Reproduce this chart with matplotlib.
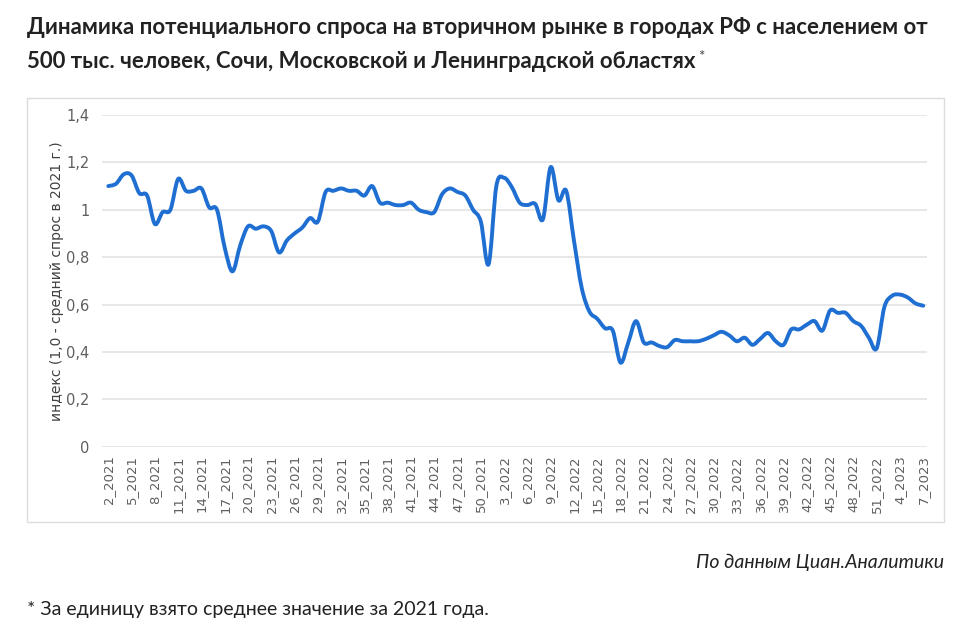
import numpy as np
import matplotlib.pyplot as plt
from matplotlib.patches import Rectangle, PathPatch
from matplotlib.path import Path

# weeks present in the data (New Year weeks are missing)
weeks_2021 = list(range(2, 52))
weeks_2022 = list(range(2, 52))
weeks_2023 = list(range(2, 8))
categories = ([f"{w}_2021" for w in weeks_2021] + [f"{w}_2022" for w in weeks_2022]
              + [f"{w}_2023" for w in weeks_2023])

demand = [
    1.10, 1.11, 1.15, 1.145, 1.07, 1.06, 0.94, 0.99, 1.00, 1.13,
    1.08, 1.08, 1.09, 1.01, 1.00, 0.84, 0.74, 0.85, 0.93, 0.92,
    0.93, 0.91, 0.82, 0.87, 0.90, 0.925, 0.965, 0.95, 1.075, 1.08,
    1.09, 1.08, 1.08, 1.06, 1.10, 1.03, 1.03, 1.02, 1.02, 1.03,
    1.00, 0.99, 0.99, 1.065, 1.09, 1.075, 1.06, 1.00, 0.95, 0.77,
    1.10, 1.135, 1.095, 1.03, 1.02, 1.025, 0.96, 1.18, 1.04, 1.08,
    0.87, 0.67, 0.57, 0.54, 0.50, 0.49, 0.355, 0.44, 0.53, 0.44,
    0.44, 0.425, 0.42, 0.45, 0.445, 0.445, 0.445, 0.455, 0.47, 0.485,
    0.47, 0.445, 0.46, 0.43, 0.455, 0.48, 0.445, 0.43, 0.495, 0.495,
    0.515, 0.53, 0.49, 0.575, 0.565, 0.565, 0.53, 0.51, 0.46, 0.415,
    0.59, 0.637, 0.642, 0.63, 0.605, 0.595,
]

yticks = [0, 0.2, 0.4, 0.6, 0.8, 1.0, 1.2, 1.4]
ytick_labels = ["0", "0,2", "0,4", "0,6", "0,8", "1", "1,2", "1,4"]

title_1 = "Динамика потенциального спроса на вторичном рынке в городах РФ с населением от"
title_2 = "500 тыс. человек, Сочи, Московской и Ленинградской областях"
source = "По данным Циан.Аналитики"
note = "* За единицу взято среднее значение за 2021 года."


def smooth_path(xs, ys):
    # smoothed line like in Excel: bezier segments through every point
    p = np.column_stack([xs, ys]).astype(float)
    ext = np.vstack([p[0], p, p[-1]])
    verts = [p[0]]
    codes = [Path.MOVETO]
    for i in range(len(p) - 1):
        c1 = ext[i + 1] + (ext[i + 2] - ext[i]) / 6
        c2 = ext[i + 2] - (ext[i + 3] - ext[i + 1]) / 6
        verts += [c1, c2, p[i + 1]]
        codes += [Path.CURVE4] * 3
    return Path(verts, codes)


W, H = 966, 643
fig = plt.figure(figsize=(W / 100, H / 100), dpi=100)

# panel frame
fig.patches.append(Rectangle((27 / W, 1 - 522 / H), (944 - 27) / W, (522 - 98) / H,
                             transform=fig.transFigure, fill=False,
                             edgecolor="#dcdcdc", linewidth=1.0))

ax = fig.add_axes([101.7 / W, 1 - 446.7 / H, (926.7 - 101.7) / W, (446.7 - 115) / H])
x = list(range(len(categories)))
ax.add_patch(PathPatch(smooth_path(x, demand), fill=False, edgecolor="#1f6fd2",
                       linewidth=2.8, joinstyle="round", capstyle="round"))

ax.set_xlim(-0.85, 105.45)
ax.set_ylim(0, 1.4)
ax.set_yticks(yticks)
ax.set_yticklabels(ytick_labels)
ax.set_xticks(x[::3])
ax.set_xticklabels(categories[::3], rotation=90)
ax.grid(axis="y", color="#e3e3e3", linewidth=1.2)
ax.set_axisbelow(True)
for s in ax.spines.values():
    s.set_visible(False)
ax.tick_params(length=0, colors="#5f5f5f")
ax.tick_params(axis="y", pad=9, labelsize=10.5)
ax.tick_params(axis="x", pad=6, labelsize=9.5)
ax.set_ylabel("индекс (1,0 - средний спрос в 2021 г.)", fontsize=10, color="#404040",
              labelpad=1)

fig.text(27 / W, 1 - 27 / H, title_1, ha="left", va="center", fontsize=16,
         family="Lato", fontweight="bold", color="#222222")
t2 = fig.text(27 / W, 1 - 62 / H, title_2, ha="left", va="center", fontsize=16,
              family="Lato", fontweight="bold", color="#222222")
ax.annotate("*", xy=(1, 1), xycoords=t2, xytext=(2, 1), textcoords="offset points",
            ha="left", va="top", fontsize=11, family="Lato", color="#444444",
            annotation_clip=False)
fig.text(944 / W, 1 - 562 / H, source, ha="right", va="center", fontsize=14,
         family="Lato", style="italic", color="#222222")
fig.text(27 / W, 1 - 610 / H, note, ha="left", va="center", fontsize=14,
         family="Lato", color="#222222")

fig.savefig("out.png", dpi=100)
